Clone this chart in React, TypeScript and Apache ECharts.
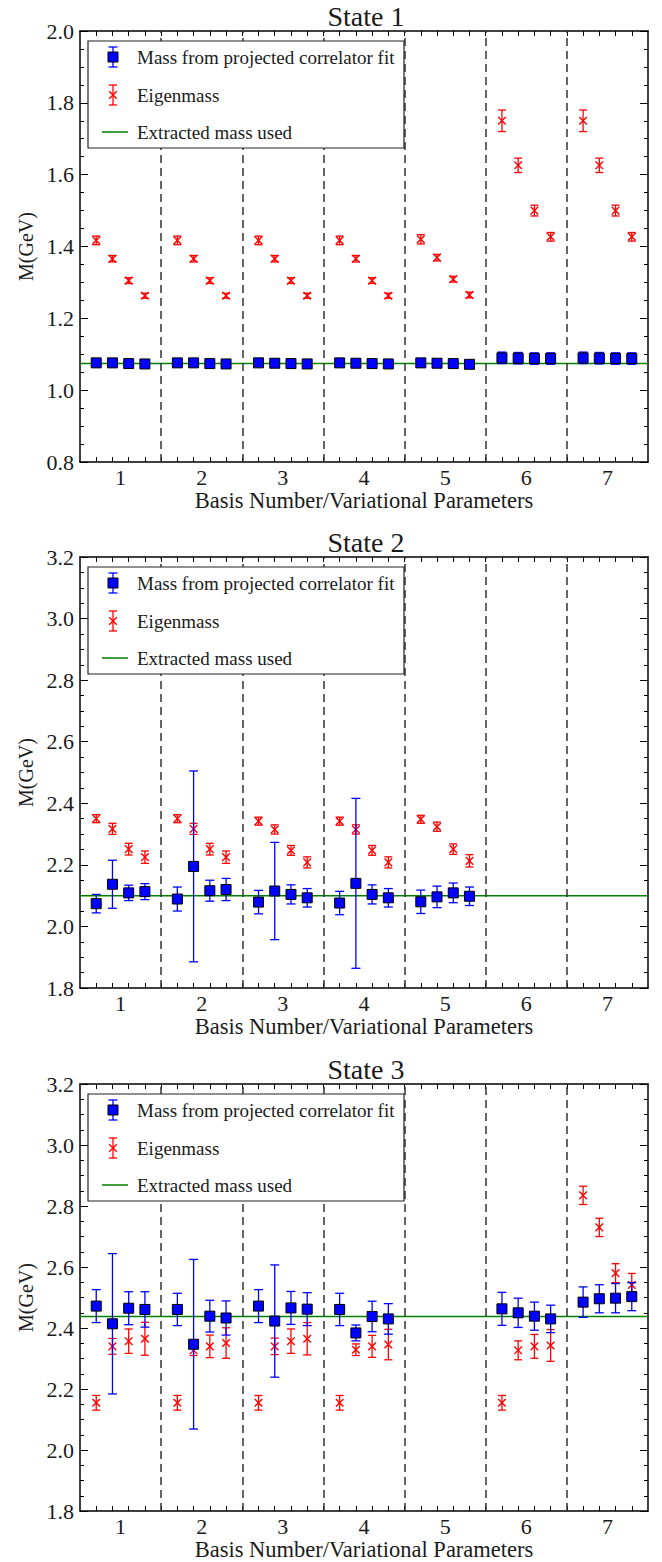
import React, { useEffect, useRef } from "react";
import * as echarts from "echarts";

const SERIF = "'Liberation Serif', 'DejaVu Serif', serif";

const BASIS = [1, 2, 3, 4, 5, 6, 7];
const OFFSETS = [-0.3, -0.1, 0.1, 0.3];
const SEPARATORS = [1.5, 2.5, 3.5, 4.5, 5.5, 6.5];
const X_TICKS = [
  0.7, 0.9, 1.1, 1.3, 1.5, 1.7, 1.9, 2.1, 2.3, 2.5, 2.7, 2.9, 3.1, 3.3, 3.5, 3.7, 3.9,
  4.1, 4.3, 4.5, 4.7, 4.9, 5.1, 5.3, 5.5, 5.7, 5.9, 6.1, 6.3, 6.5, 6.7, 6.9, 7.1, 7.3,
];

const TITLES = ["State 1", "State 2", "State 3"];
const X_NAME = "Basis Number/Variational Parameters";
const Y_NAME = "M(GeV)";
const LEGEND_LABELS = ["Mass from projected correlator fit", "Eigenmass", "Extracted mass used"];
const Y_RANGES = [
  [0.8, 2.0],
  [1.8, 3.2],
  [1.8, 3.2],
];
const EXTRACTED = [1.074, 2.1, 2.438];

// ---- State 1 ----
const S1_FIT = [
  [1.076, 1.076, 1.074, 1.073],
  [1.076, 1.076, 1.074, 1.073],
  [1.076, 1.075, 1.074, 1.073],
  [1.076, 1.075, 1.074, 1.073],
  [1.076, 1.075, 1.074, 1.072],
  [1.090, 1.089, 1.088, 1.088],
  [1.090, 1.089, 1.088, 1.088],
];
const S1_FIT_ERR = [
  [0.006, 0.006, 0.006, 0.006],
  [0.006, 0.006, 0.006, 0.006],
  [0.006, 0.006, 0.006, 0.006],
  [0.006, 0.006, 0.006, 0.006],
  [0.006, 0.006, 0.006, 0.006],
  [0.016, 0.016, 0.016, 0.016],
  [0.016, 0.016, 0.016, 0.016],
];
const S1_EIGEN = [
  [1.417, 1.366, 1.305, 1.263],
  [1.417, 1.366, 1.305, 1.263],
  [1.417, 1.366, 1.305, 1.263],
  [1.417, 1.366, 1.305, 1.263],
  [1.420, 1.369, 1.309, 1.265],
  [1.750, 1.626, 1.500, 1.427],
  [1.750, 1.626, 1.500, 1.427],
];
const S1_EIGEN_ERR = [
  [0.012, 0.009, 0.008, 0.007],
  [0.012, 0.009, 0.008, 0.007],
  [0.012, 0.009, 0.008, 0.007],
  [0.012, 0.009, 0.008, 0.007],
  [0.013, 0.009, 0.008, 0.008],
  [0.030, 0.020, 0.015, 0.012],
  [0.030, 0.020, 0.015, 0.012],
];

// ---- State 2 ----
const S2_FIT = [
  [2.074, 2.137, 2.109, 2.113],
  [2.089, 2.195, 2.116, 2.12],
  [2.079, 2.115, 2.104, 2.093],
  [2.076, 2.14, 2.104, 2.093],
  [2.08, 2.096, 2.109, 2.098],
  null,
  null,
];
const S2_FIT_ERR = [
  [0.03, 0.078, 0.025, 0.026],
  [0.039, 0.31, 0.034, 0.036],
  [0.038, 0.158, 0.031, 0.03],
  [0.038, 0.276, 0.031, 0.03],
  [0.038, 0.035, 0.032, 0.03],
  null,
  null,
];
const S2_EIGEN = [
  [2.35, 2.317, 2.251, 2.225],
  [2.35, 2.317, 2.251, 2.225],
  [2.342, 2.315, 2.247, 2.208],
  [2.342, 2.315, 2.247, 2.208],
  [2.348, 2.324, 2.251, 2.213],
  null,
  null,
];
const S2_EIGEN_ERR = [
  [0.013, 0.018, 0.019, 0.02],
  [0.013, 0.018, 0.019, 0.02],
  [0.013, 0.015, 0.016, 0.018],
  [0.013, 0.015, 0.016, 0.018],
  [0.013, 0.015, 0.017, 0.02],
  null,
  null,
];

// ---- State 3 ----
const S3_FIT = [
  [2.472, 2.414, 2.465, 2.461],
  [2.461, 2.347, 2.439, 2.433],
  [2.472, 2.423, 2.466, 2.462],
  [2.461, 2.384, 2.438, 2.43],
  null,
  [2.463, 2.45, 2.439, 2.43],
  [2.485, 2.496, 2.498, 2.503],
];
const S3_FIT_ERR = [
  [0.054, 0.23, 0.054, 0.058],
  [0.053, 0.278, 0.052, 0.056],
  [0.054, 0.184, 0.054, 0.054],
  [0.053, 0.026, 0.05, 0.05],
  null,
  [0.054, 0.048, 0.046, 0.045],
  [0.05, 0.046, 0.048, 0.046],
];
const S3_EIGEN = [
  [2.155, 2.34, 2.357, 2.365],
  [2.155, 2.327, 2.34, 2.351],
  [2.155, 2.34, 2.357, 2.365],
  [2.155, 2.329, 2.34, 2.346],
  null,
  [2.155, 2.327, 2.34, 2.343],
  [2.835, 2.73, 2.58, 2.541],
];
const S3_EIGEN_ERR = [
  [0.024, 0.026, 0.04, 0.054],
  [0.024, 0.017, 0.037, 0.05],
  [0.024, 0.027, 0.04, 0.053],
  [0.024, 0.019, 0.036, 0.05],
  null,
  [0.024, 0.031, 0.039, 0.052],
  [0.03, 0.03, 0.031, 0.038],
];

const STATES = [
  { fit: S1_FIT, fitErr: S1_FIT_ERR, eig: S1_EIGEN, eigErr: S1_EIGEN_ERR },
  { fit: S2_FIT, fitErr: S2_FIT_ERR, eig: S2_EIGEN, eigErr: S2_EIGEN_ERR },
  { fit: S3_FIT, fitErr: S3_FIT_ERR, eig: S3_EIGEN, eigErr: S3_EIGEN_ERR },
];

const GRID_LEFT = 80;
const GRID_W = 568;
const GRID_H = 431;
const GRID_TOPS = [31, 557, 1084];

const BLUE = "#0000ff";
const RED = "#ff0000";
const GREEN = "#008000";
const INK = "#1a1a1a";

function toRows(vals: (number[] | null)[], errs: (number[] | null)[]) {
  const rows: number[][] = [];
  BASIS.forEach((b, bi) => {
    const v = vals[bi];
    const e = errs[bi];
    if (!v || !e) return;
    v.forEach((y, k) => rows.push([b + OFFSETS[k], y, e[k]]));
  });
  return rows;
}

function errRender(kind: "fit" | "eig") {
  return (params: any, api: any) => {
    const x = api.value(0);
    const y = api.value(1);
    const e = api.value(2);
    const c = api.coord([x, y]);
    const t = api.coord([x, y + e]);
    const b = api.coord([x, y - e]);
    const color = kind === "fit" ? BLUE : RED;
    const cap = kind === "fit" ? 4.5 : 4;
    const lw = 1.3;
    const children: any[] = [
      { type: "line", shape: { x1: c[0], y1: t[1], x2: c[0], y2: b[1] }, style: { stroke: color, lineWidth: lw } },
      { type: "line", shape: { x1: c[0] - cap, y1: t[1], x2: c[0] + cap, y2: t[1] }, style: { stroke: color, lineWidth: lw } },
      { type: "line", shape: { x1: c[0] - cap, y1: b[1], x2: c[0] + cap, y2: b[1] }, style: { stroke: color, lineWidth: lw } },
    ];
    if (kind === "fit") {
      children.push({
        type: "rect",
        shape: { x: c[0] - 5, y: c[1] - 5, width: 10, height: 10 },
        style: { fill: BLUE, stroke: "#000", lineWidth: 1 },
      });
    } else {
      const s = 3.8;
      children.push(
        { type: "line", shape: { x1: c[0] - s, y1: c[1] - s, x2: c[0] + s, y2: c[1] + s }, style: { stroke: RED, lineWidth: 1.4 } },
        { type: "line", shape: { x1: c[0] - s, y1: c[1] + s, x2: c[0] + s, y2: c[1] - s }, style: { stroke: RED, lineWidth: 1.4 } }
      );
    }
    return { type: "group", children };
  };
}

function buildOption() {
  const grid: any[] = [];
  const xAxis: any[] = [];
  const yAxis: any[] = [];
  const series: any[] = [];
  const graphic: any[] = [];
  const axisLine = { show: true, onZero: false, lineStyle: { color: "#000", width: 1.5 } };
  const labelStyle = { color: INK, fontFamily: SERIF, fontSize: 22 };

  STATES.forEach((st, i) => {
    const top = GRID_TOPS[i];
    grid.push({ left: GRID_LEFT, top, width: GRID_W, height: GRID_H });
    const xCommon = {
      type: "value",
      gridIndex: i,
      min: 0.5,
      max: 7.5,
      axisLine,
      axisTick: { show: true, inside: true, length: 5, customValues: X_TICKS, lineStyle: { color: "#000", width: 1 } },
      splitLine: { show: false },
    };
    xAxis.push({
      ...xCommon,
      position: "bottom",
      axisLabel: { show: true, customValues: BASIS, margin: 4, ...labelStyle },
      name: X_NAME,
      nameLocation: "middle",
      nameGap: 25,
      nameTextStyle: { color: INK, fontFamily: SERIF, fontSize: 22.5 },
    });
    xAxis.push({ ...xCommon, position: "top", axisLabel: { show: false } });
    const [ymin, ymax] = Y_RANGES[i];
    const yCommon = {
      type: "value",
      gridIndex: i,
      min: ymin,
      max: ymax,
      interval: 0.2,
      axisLine,
      axisTick: { show: true, inside: true, length: 8, lineStyle: { color: "#000", width: 1 } },
      minorTick: { show: true, splitNumber: 4, length: 4, lineStyle: { color: "#000", width: 1 } },
      splitLine: { show: false },
      minorSplitLine: { show: false },
    };
    yAxis.push({
      ...yCommon,
      position: "left",
      axisLabel: { show: true, margin: 6, formatter: (v: number) => v.toFixed(1), ...labelStyle },
      name: Y_NAME,
      nameLocation: "middle",
      nameGap: 42,
      nameRotate: 90,
      nameTextStyle: { color: INK, fontFamily: SERIF, fontSize: 20 },
    });
    yAxis.push({ ...yCommon, position: "right", axisLabel: { show: false } });

    series.push({
      type: "line",
      xAxisIndex: 2 * i,
      yAxisIndex: 2 * i,
      data: [
        [0.5, EXTRACTED[i]],
        [7.5, EXTRACTED[i]],
      ],
      symbol: "none",
      lineStyle: { color: GREEN, width: 1.5 },
      z: 3,
      markLine: {
        silent: true,
        symbol: "none",
        label: { show: false },
        lineStyle: { type: [8, 5], color: "#333", width: 1.5 },
        data: SEPARATORS.map((x) => ({ xAxis: x })),
      },
    });
    series.push({
      type: "custom",
      xAxisIndex: 2 * i,
      yAxisIndex: 2 * i,
      data: toRows(st.eig, st.eigErr),
      encode: { x: 0, y: 1 },
      renderItem: errRender("eig"),
      z: 4,
    });
    series.push({
      type: "custom",
      xAxisIndex: 2 * i,
      yAxisIndex: 2 * i,
      data: toRows(st.fit, st.fitErr),
      encode: { x: 0, y: 1 },
      renderItem: errRender("fit"),
      z: 5,
    });

    // title
    graphic.push({
      type: "text",
      x: GRID_LEFT + GRID_W / 2 + 2,
      y: top - 15,
      style: {
        text: TITLES[i],
        fill: INK,
        font: `28px ${SERIF}`,
        textAlign: "center",
        textVerticalAlign: "middle",
      },
    });

    // legend box
    const lx = 88;
    const ly = top + 10;
    graphic.push({
      type: "rect",
      shape: { x: lx, y: ly, width: 316, height: 107 },
      style: { fill: "#fff", stroke: "#222", lineWidth: 1.2 },
      z: 20,
    });
    const rows = [ly + 16, ly + 54, ly + 91];
    const mx = 113;
    graphic.push(
      { type: "line", shape: { x1: mx, y1: rows[0] - 10, x2: mx, y2: rows[0] + 10 }, style: { stroke: BLUE, lineWidth: 1.3 }, z: 21 },
      { type: "line", shape: { x1: mx - 4.5, y1: rows[0] - 10, x2: mx + 4.5, y2: rows[0] - 10 }, style: { stroke: BLUE, lineWidth: 1.3 }, z: 21 },
      { type: "line", shape: { x1: mx - 4.5, y1: rows[0] + 10, x2: mx + 4.5, y2: rows[0] + 10 }, style: { stroke: BLUE, lineWidth: 1.3 }, z: 21 },
      { type: "rect", shape: { x: mx - 5, y: rows[0] - 5, width: 10, height: 10 }, style: { fill: BLUE, stroke: "#000", lineWidth: 1 }, z: 22 }
    );
    graphic.push(
      { type: "line", shape: { x1: mx, y1: rows[1] - 10, x2: mx, y2: rows[1] + 10 }, style: { stroke: RED, lineWidth: 1.3 }, z: 21 },
      { type: "line", shape: { x1: mx - 4, y1: rows[1] - 10, x2: mx + 4, y2: rows[1] - 10 }, style: { stroke: RED, lineWidth: 1.3 }, z: 21 },
      { type: "line", shape: { x1: mx - 4, y1: rows[1] + 10, x2: mx + 4, y2: rows[1] + 10 }, style: { stroke: RED, lineWidth: 1.3 }, z: 21 },
      { type: "line", shape: { x1: mx - 3.8, y1: rows[1] - 3.8, x2: mx + 3.8, y2: rows[1] + 3.8 }, style: { stroke: RED, lineWidth: 1.4 }, z: 21 },
      { type: "line", shape: { x1: mx - 3.8, y1: rows[1] + 3.8, x2: mx + 3.8, y2: rows[1] - 3.8 }, style: { stroke: RED, lineWidth: 1.4 }, z: 21 }
    );
    graphic.push({
      type: "line",
      shape: { x1: 102, y1: rows[2], x2: 128, y2: rows[2] },
      style: { stroke: GREEN, lineWidth: 1.5 },
      z: 21,
    });
    LEGEND_LABELS.forEach((lab, k) => {
      graphic.push({
        type: "text",
        x: 137,
        y: rows[k],
        style: { text: lab, fill: INK, font: `19px ${SERIF}`, textVerticalAlign: "middle" },
        z: 21,
      });
    });
  });

  return {
    animation: false,
    backgroundColor: "#fff",
    grid,
    xAxis,
    yAxis,
    series,
    graphic,
  };
}

export default function App() {
  const ref = useRef<HTMLDivElement>(null);
  useEffect(() => {
    if (!ref.current) return;
    const chart = echarts.init(ref.current, undefined, { renderer: "svg" });
    chart.setOption(buildOption() as any);
    return () => chart.dispose();
  }, []);
  return (
    <div
      ref={ref}
      style={{ position: "absolute", left: 0, top: 0, width: 662, height: 1562, background: "#fff" }}
    />
  );
}
